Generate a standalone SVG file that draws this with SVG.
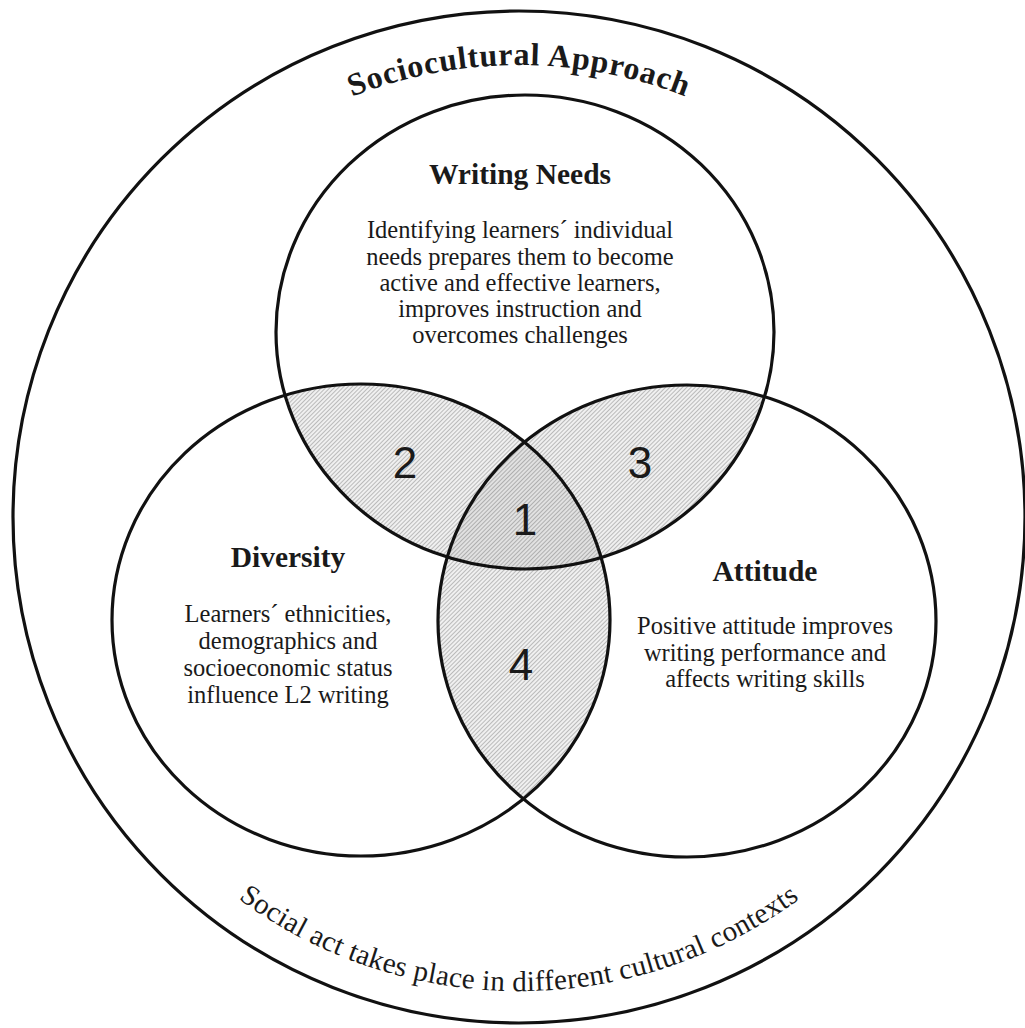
<svg xmlns="http://www.w3.org/2000/svg" width="1025" height="1028" viewBox="0 0 1025 1028">
<style>
  .ring{fill:none;stroke:#111;stroke-width:3.2}
  .title{font-family:"Liberation Serif","Times New Roman",serif;font-weight:bold;fill:#1a1a1a;text-anchor:middle}
  .body{font-family:"Liberation Serif","Times New Roman",serif;font-size:24.5px;fill:#1a1a1a;text-anchor:middle}
  .num{font-family:"Liberation Sans",Arial,sans-serif;font-size:44px;fill:#1a1a1a;text-anchor:middle}
</style>
<defs>
  <pattern id="hatch" patternUnits="userSpaceOnUse" width="3" height="3" patternTransform="rotate(45)">
    <rect width="3" height="3" fill="#f0f0f0"/>
    <line x1="0.5" y1="0" x2="0.5" y2="3" stroke="#b4b4b4" stroke-width="0.9"/>
  </pattern>
  <clipPath id="clipTop"><ellipse cx="525" cy="332" rx="249" ry="237"/></clipPath>
  <clipPath id="clipLeft"><ellipse cx="361" cy="620" rx="249" ry="236"/></clipPath>
  <clipPath id="clipRight"><ellipse cx="687" cy="621" rx="249" ry="236"/></clipPath>
  <path id="arcTop" d="M 127 291 A 453 453 0 0 1 911 291"/>
  <path id="arcBottom" d="M 109 754 A 473 473 0 0 0 929 754"/>
</defs>
<rect width="1025" height="1028" fill="#fff"/>

<g id="overlaps">
  <g clip-path="url(#clipTop)">
    <ellipse cx="361" cy="620" rx="249" ry="236" fill="url(#hatch)"/>
    <ellipse cx="687" cy="621" rx="249" ry="236" fill="url(#hatch)"/>
  </g>
  <g clip-path="url(#clipLeft)">
    <ellipse cx="687" cy="621" rx="249" ry="236" fill="url(#hatch)"/>
  </g>
  <g clip-path="url(#clipTop)">
    <g clip-path="url(#clipLeft)">
      <ellipse cx="687" cy="621" rx="249" ry="236" fill="#000" fill-opacity="0.06"/>
    </g>
  </g>
</g>

<g id="sociocultural-approach">
  <circle class="ring" cx="519" cy="517" r="506"/>
  <text class="title" font-size="32" letter-spacing="0.8"><textPath href="#arcTop" startOffset="50%">Sociocultural Approach</textPath></text>
  <text font-family="Liberation Serif, Times New Roman, serif" font-size="29" fill="#1a1a1a" text-anchor="middle" letter-spacing="0.3"><textPath href="#arcBottom" startOffset="50%">Social act takes place in different cultural contexts</textPath></text>
</g>

<g id="writing-needs">
  <ellipse class="ring" cx="525" cy="332" rx="249" ry="237"/>
  <text class="title" font-size="29.5" x="520" y="184">Writing Needs</text>
  <text class="body" x="520" y="238">Identifying learners´ individual</text>
  <text class="body" x="520" y="264.5">needs prepares them to become</text>
  <text class="body" x="520" y="291">active and effective learners,</text>
  <text class="body" x="520" y="317">improves instruction and</text>
  <text class="body" x="520" y="343">overcomes challenges</text>
</g>

<g id="diversity">
  <ellipse class="ring" cx="361" cy="620" rx="249" ry="236"/>
  <text class="title" font-size="29.5" x="288" y="567">Diversity</text>
  <text class="body" x="288" y="622">Learners´ ethnicities,</text>
  <text class="body" x="288" y="649">demographics and</text>
  <text class="body" x="288" y="676">socioeconomic status</text>
  <text class="body" x="288" y="703">influence L2 writing</text>
</g>

<g id="attitude">
  <ellipse class="ring" cx="687" cy="621" rx="249" ry="236"/>
  <text class="title" font-size="29.5" x="765" y="581">Attitude</text>
  <text class="body" x="765" y="634">Positive attitude improves</text>
  <text class="body" x="765" y="661">writing performance and</text>
  <text class="body" x="765" y="687">affects writing skills</text>
</g>

<g id="region-labels">
  <text class="num" x="405" y="478">2</text>
  <text class="num" x="640" y="478">3</text>
  <text class="num" x="525" y="535">1</text>
  <text class="num" x="521" y="680">4</text>
</g>
</svg>
